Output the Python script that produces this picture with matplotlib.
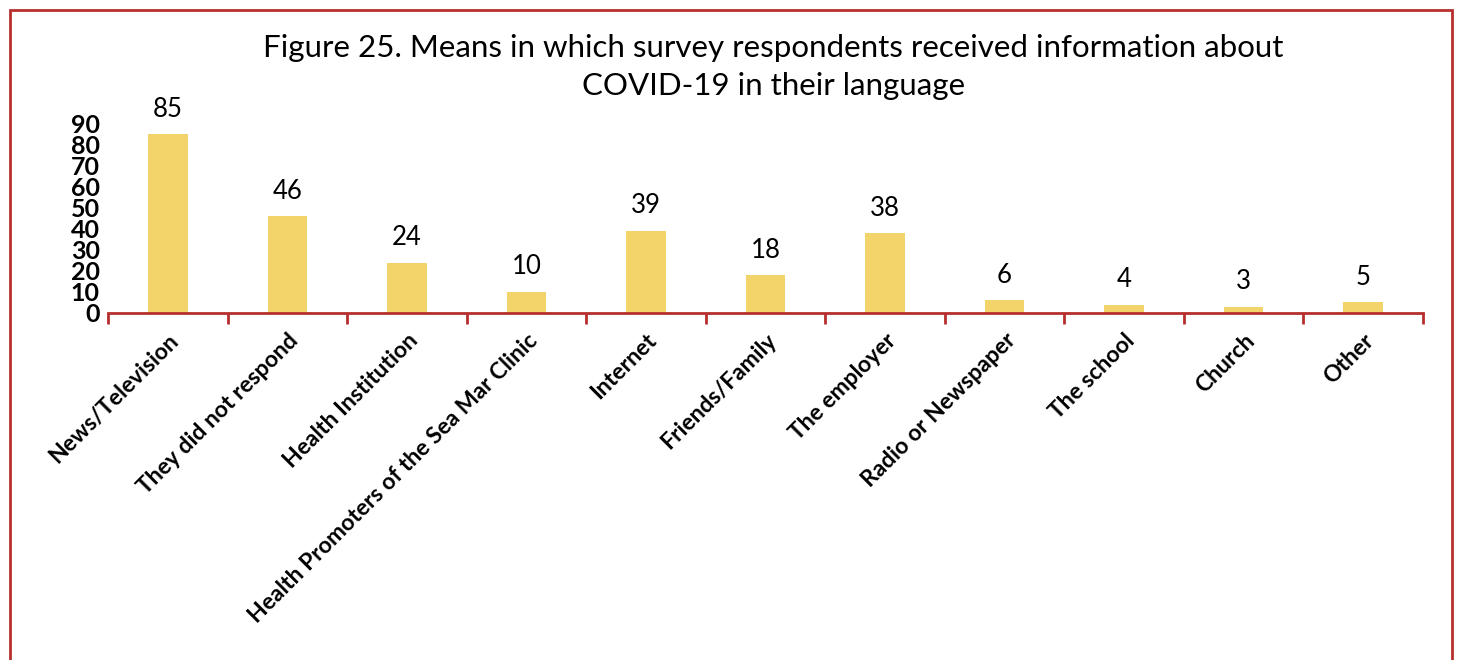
import matplotlib.pyplot as plt
from matplotlib.patches import Rectangle

categories = ["News/Television", "They did not respond", "Health Institution",
              "Health Promoters of the Sea Mar Clinic", "Internet", "Friends/Family",
              "The employer", "Radio or Newspaper", "The school", "Church", "Other"]
values = [85, 46, 24, 10, 39, 18, 38, 6, 4, 3, 5]
yticks = [0, 10, 20, 30, 40, 50, 60, 70, 80, 90]

plt.rcParams['font.family'] = ['Lato', 'DejaVu Sans']
red = "#B5302C"
bar_color = "#F3D46B"

fig = plt.figure(figsize=(14.62, 6.6), dpi=100)
ax = fig.add_axes([0.0739, 0.5258, 0.8994, 0.2864])

x = range(len(categories))
ax.bar(x, values, width=0.33, color=bar_color)
for xi, v in zip(x, values):
    ax.text(xi, v + 6, str(v), ha='center', va='bottom', fontsize=18.5)

ax.set_xlim(-0.5, len(categories) - 0.5)
ax.set_ylim(0, 90)
ax.set_yticks(yticks)
ax.set_yticklabels([str(t) for t in yticks], fontsize=18, fontweight='bold')
ax.tick_params(axis='y', length=0, pad=6)

ax.set_xticks(list(x))
ax.set_xticklabels(categories, rotation=45, ha='right', rotation_mode='anchor',
                   fontsize=16.5, fontweight='bold')
ax.tick_params(axis='x', which='major', length=0, pad=12)
ax.set_xticks([i - 0.5 for i in range(len(categories) + 1)], minor=True)
ax.tick_params(axis='x', which='minor', length=8, width=2, color=red, direction='out')

for s in ['top', 'right', 'left']:
    ax.spines[s].set_visible(False)
ax.spines['bottom'].set_color(red)
ax.spines['bottom'].set_linewidth(2)

fig.text(0.529, 0.928, "Figure 25. Means in which survey respondents received information about",
         ha='center', va='center', fontsize=22.5)
fig.text(0.529, 0.870, "COVID-19 in their language", ha='center', va='center', fontsize=22.5)

fig.patches.append(Rectangle((10 / 1462, -0.1), 1442 / 1462, 1.1 - 10 / 660,
                             transform=fig.transFigure, fill=False,
                             edgecolor=red, linewidth=2))

fig.savefig("out.png", dpi=100)
